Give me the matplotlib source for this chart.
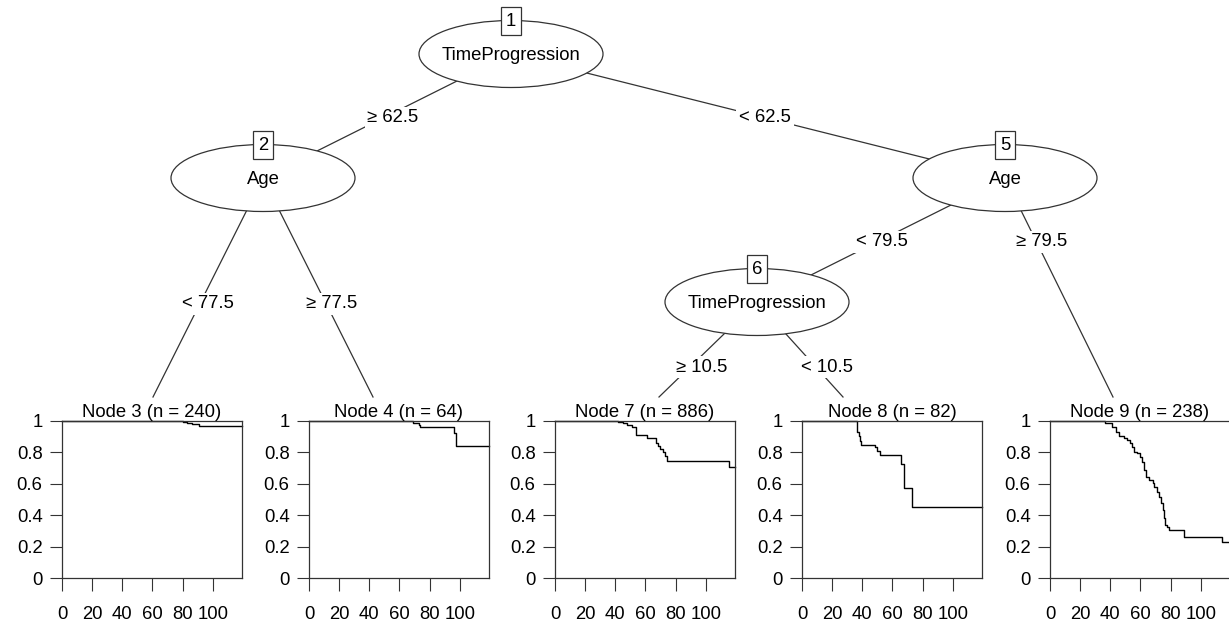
import matplotlib
matplotlib.use("Agg")
import matplotlib.pyplot as plt
from matplotlib.patches import Ellipse

plt.rcParams['font.family'] = ['Liberation Sans', 'DejaVu Sans']

# inner nodes: id, split variable
inner_ids = [1, 2, 5, 6]
inner_vars = ["TimeProgression", "Age", "Age", "TimeProgression"]

# edge labels (parent -> child)
edge_labels = ["\u2265 62.5", "< 62.5", "< 77.5", "\u2265 77.5",
               "< 79.5", "\u2265 79.5", "\u2265 10.5", "< 10.5"]

# terminal nodes
leaf_ids = [3, 4, 7, 8, 9]
leaf_n = [240, 64, 886, 82, 238]

# Kaplan-Meier step curves (time, survival)
km_t = {
    3: [0, 80.5, 83, 86, 91],
    4: [0, 69, 73, 74, 96, 97.6],
    7: [0, 42, 45, 48, 51, 53.5, 61, 67, 68.5, 70, 71.5, 73, 74.5, 115.5],
    8: [0, 36.4, 37.6, 38.5, 39, 48.2, 49.8, 52, 65.8, 68, 72.7],
    9: [0, 36.5, 41.3, 43.5, 45.8, 49.1, 51.3, 52.9, 54.7, 55.8, 58.0,
        59.8, 60.9, 62.5, 63.6, 65.8, 68.1, 69.2, 70.8, 72.1, 73.7, 74.8,
        75.9, 76.6, 77.7, 79.2, 88.8, 114.3],
}
km_s = {
    3: [1, 0.992, 0.985, 0.978, 0.968],
    4: [1, 0.985, 0.97, 0.96, 0.92, 0.84],
    7: [1, 0.99, 0.985, 0.975, 0.96, 0.91, 0.89, 0.86, 0.84, 0.82, 0.80,
        0.775, 0.745, 0.705],
    8: [1, 0.93, 0.90, 0.87, 0.845, 0.83, 0.81, 0.785, 0.725, 0.57, 0.455],
    9: [1, 0.987, 0.962, 0.930, 0.903, 0.892, 0.877, 0.856, 0.835, 0.803,
        0.793, 0.772, 0.740, 0.687, 0.641, 0.624, 0.603, 0.581, 0.550, 0.518,
        0.476, 0.433, 0.381, 0.338, 0.328, 0.307, 0.264, 0.233],
}
t_max = 119.5

W, H = 1229, 624
fig = plt.figure(figsize=(W / 100, H / 100), dpi=100)

# tree layout in pixel coordinates
tree = fig.add_axes([0, 0, 1, 1])
tree.set_xlim(0, W)
tree.set_ylim(H, 0)
tree.axis("off")

node_xy = {1: (511, 54), 2: (263, 178), 5: (1005, 178), 6: (757, 302)}
leaf_top = {3: (153, 397), 4: (373, 397), 7: (659, 397), 8: (843, 397), 9: (1113, 397)}
edges = [(1, 2), (1, 5), (2, 3), (2, 4), (5, 6), (5, 9), (6, 7), (6, 8)]
label_xy = [(393, 118), (765, 118), (208, 304), (332, 304),
            (882, 242), (1042, 242), (702, 367), (827, 367)]

fs = 13.3
for (a, b), lab, (lx, ly) in zip(edges, edge_labels, label_xy):
    x0, y0 = node_xy[a]
    x1, y1 = node_xy[b] if b in node_xy else leaf_top[b]
    tree.plot([x0, x1], [y0, y1], color="#333333", lw=0.9, zorder=1)
    tree.text(lx, ly, lab, fontsize=fs, ha="center", va="center", zorder=3,
              bbox=dict(fc="white", ec="none", pad=2))

for nid, var in zip(inner_ids, inner_vars):
    x, y = node_xy[nid]
    tree.add_patch(Ellipse((x, y), 184, 67, fc="white", ec="#333333", lw=0.9, zorder=2))
    tree.text(x, y + 2, var, fontsize=fs, ha="center", va="center", zorder=3)
    tree.text(x, y - 33, str(nid), fontsize=fs, ha="center", va="center", zorder=4,
              bbox=dict(boxstyle="square,pad=0.28", fc="white", ec="#333333", lw=0.9))

# survival panels
lefts = [62, 309, 555, 802, 1050]
pw, ph = 180, 157.6
bottom = 578.3
for nid, n, left in zip(leaf_ids, leaf_n, lefts):
    ax = fig.add_axes([left / W, (H - bottom) / H, pw / W, ph / H])
    t = km_t[nid] + [t_max]
    s = km_s[nid] + [km_s[nid][-1]]
    ax.step(t, s, where="post", color="black", lw=1.0, clip_on=False)
    ax.set_xlim(0, t_max)
    ax.set_ylim(0, 1)
    ax.set_xticks([0, 20, 40, 60, 80, 100])
    ax.set_yticks([0, 0.2, 0.4, 0.6, 0.8, 1])
    ax.set_yticklabels(["0", "0.2", "0.4", "0.6", "0.8", "1"])
    ax.tick_params(labelsize=fs, length=9, width=0.8, color="#333333")
    ax.tick_params(axis="x", pad=11)
    ax.tick_params(axis="y", pad=5)
    for sp in ax.spines.values():
        sp.set_linewidth(0.9)
        sp.set_color("#333333")
    ax.set_title("Node %d (n = %d)" % (nid, n), fontsize=fs, pad=1)

fig.savefig("out.png", dpi=100)
